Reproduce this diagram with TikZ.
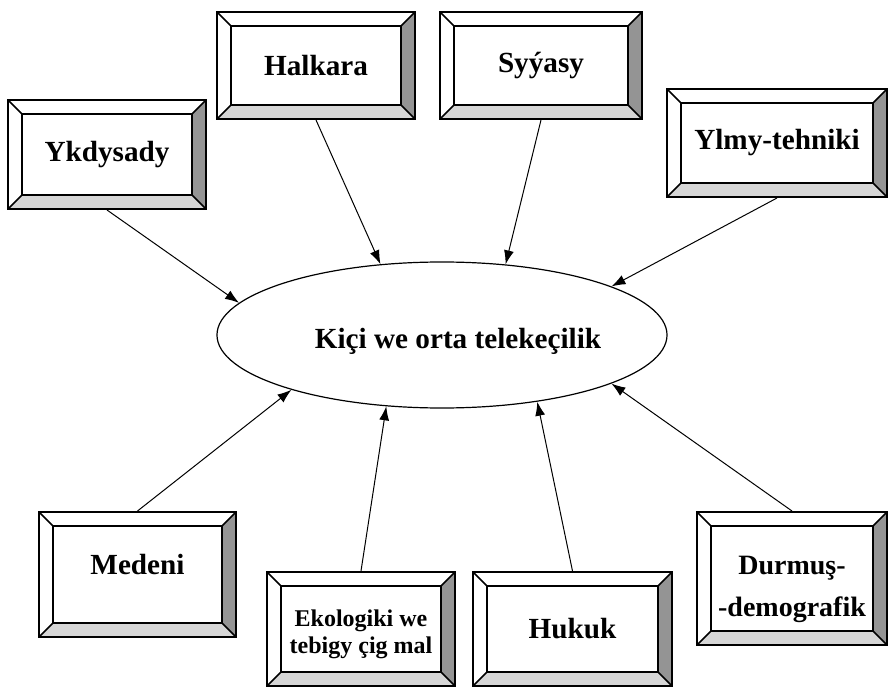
\documentclass[tikz,border=0pt]{standalone}
\usepackage{fontspec}
\setmainfont{Liberation Serif}
\usetikzlibrary{shapes.geometric, arrows.meta}
\definecolor{bevdark}{gray}{0.58}
\definecolor{bevlight}{gray}{0.84}
\newcommand{\bevw}{7pt}
\tikzset{
  bevelbox/.style={draw, line width=1pt, inner sep=0pt, align=center,
    font=\bfseries\fontsize{14.6}{17}\selectfont,
    path picture={
      \coordinate (pa) at (path picture bounding box.north west);
      \coordinate (pb) at (path picture bounding box.north east);
      \coordinate (pc) at (path picture bounding box.south east);
      \coordinate (pd) at (path picture bounding box.south west);
      \coordinate (qa) at ([shift={(\bevw,-\bevw)}]pa);
      \coordinate (qb) at ([shift={(-\bevw,-\bevw)}]pb);
      \coordinate (qc) at ([shift={(-\bevw,\bevw)}]pc);
      \coordinate (qd) at ([shift={(\bevw,\bevw)}]pd);
      \fill[bevdark] (pb) -- (pc) -- (qc) -- (qb) -- cycle;
      \fill[bevlight] (pc) -- (pd) -- (qd) -- (qc) -- cycle;
      \draw[line width=0.8pt] (qa) rectangle (qc);
      \draw[line width=0.8pt] (pa) -- (qa) (pb) -- (qb) (pc) -- (qc) (pd) -- (qd);
    }},
  feed/.style={-{Latex[length=7pt,width=5pt]}, line width=0.5pt}
}
\begin{document}
\begin{tikzpicture}[x=0.5pt, y=-0.5pt]
\useasboundingbox (0,0) rectangle (888,695);

% centre
\node[ellipse, draw, line width=0.6pt, minimum width=224pt, minimum height=73pt, inner sep=0pt,
  font=\bfseries\fontsize{14.6}{17}\selectfont] (ell) at (442,335)
  {\hspace*{16pt}\rule{0pt}{17pt}Ki\c{c}i we orta teleke\c{c}ilik};

% upper boxes
\node[bevelbox, minimum width=99pt, minimum height=54.5pt] (ykd) at (107,154.5) {Ykdysady};
\node[bevelbox, minimum width=99pt, minimum height=53.5pt] (hal) at (316,65.5) {Halkara};
\node[bevelbox, minimum width=101pt, minimum height=53.5pt] (syy) at (541,65.5) {Sy\'yasy};
\node[bevelbox, minimum width=110pt, minimum height=54pt] (ylm) at (777,143) {Ylmy-tehniki};

% lower boxes
\node[bevelbox, minimum width=98.5pt, minimum height=62.5pt] (med) at (137.5,574.5)
  {\rule[-10pt]{0pt}{10pt}Medeni};
\node[bevelbox, minimum width=94pt, minimum height=57pt,
  font=\bfseries\fontsize{12}{13.5}\selectfont] (eko) at (361,629)
  {\rule{0pt}{13.5pt}Ekologiki we\\tebigy \c{c}ig mal};
\node[bevelbox, minimum width=99.5pt, minimum height=57pt] (huk) at (572.5,629) {Hukuk};
\node[bevelbox, minimum width=95pt, minimum height=66.5pt,
  font=\bfseries\fontsize{14}{21}\selectfont] (dur) at (792,578.5)
  {\rule{0pt}{20pt}Durmu\c{s}-\\-demografik};

% arrows
\draw[feed] (ykd.south) -- (ell.171);
\draw[feed] (hal.south) -- (ell.131);
\draw[feed] (syy.south) -- (ell.48);
\draw[feed] (ylm.south) -- (ell.16);
\draw[feed] (med.north) -- (ell.200);
\draw[feed] (eko.north) -- (ell.232);
\draw[feed] (huk.north) -- (ell.325);
\draw[feed] (dur.north) -- (ell.344);

\end{tikzpicture}
\end{document}
